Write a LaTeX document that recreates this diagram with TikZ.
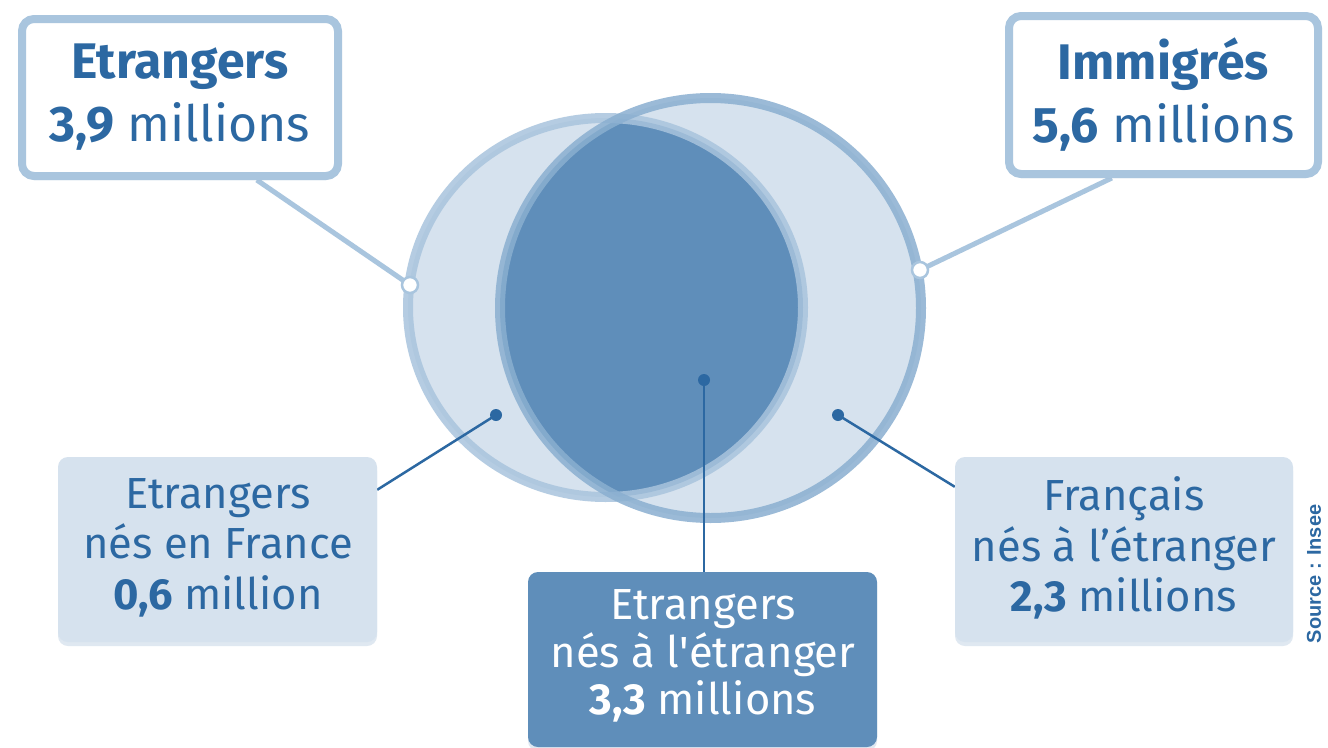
\documentclass[tikz,border=0pt]{standalone}
\usepackage{fontspec}
\setmainfont{Fira Sans}
\newfontfamily\srcfont{Liberation Sans}
\usetikzlibrary{shadows,calc}
\definecolor{txtblue}{HTML}{2C68A2}
\definecolor{lightfill}{HTML}{D6E2EE}
\definecolor{darkfill}{HTML}{5F8EBA}
\definecolor{ringA}{HTML}{A9C4DD}
\definecolor{ringB}{HTML}{8AAFD0}
\definecolor{boxline}{HTML}{A9C5DE}
\pgfdeclarelayer{bg}
\pgfdeclarelayer{mid}
\pgfsetlayers{bg,mid,main}
\begin{document}
\begin{tikzpicture}[x=1pt,y=-1pt,
  topbox/.style={draw=boxline, line width=8pt, fill=white, rounded corners=12pt,
    inner sep=0pt, align=center, text=txtblue,
    font=\fontsize{50}{63}\selectfont,
    drop shadow={shadow xshift=0pt, shadow yshift=-4pt, fill=txtblue, opacity=0.18}},
  lowbox/.style={fill=lightfill, rounded corners=10pt, inner sep=0pt, align=center,
    text=txtblue, font=\fontsize{43.5}{50.5}\selectfont,
    drop shadow={shadow xshift=0pt, shadow yshift=-4pt, fill=txtblue, opacity=0.15}},
  midbox/.style={fill=darkfill, rounded corners=10pt, inner sep=0pt, align=center,
    text=white, font=\fontsize{43.5}{47.5}\selectfont,
    drop shadow={shadow xshift=0pt, shadow yshift=-4pt, fill=txtblue, opacity=0.15}},
  whitedot/.style={circle, fill=white, draw=boxline, line width=2.5pt, minimum size=16pt, inner sep=0pt},
  darkdot/.style={circle, fill=txtblue, minimum size=12pt, inner sep=0pt},
  lightlink/.style={draw=boxline, line width=5pt},
  darklink/.style={draw=txtblue, line width=2.5pt}
]
\useasboundingbox (0,0) rectangle (1328,747);

\begin{pgfonlayer}{bg}
  \fill[white] (0,0) rectangle (1328,747);
  \fill[lightfill] (605.5,307.5) ellipse [x radius=197.5pt, y radius=189.5pt];
  \fill[lightfill] (710.5,308) ellipse [x radius=210.5pt, y radius=210pt];
  \begin{scope}
    \clip (605.5,307.5) ellipse [x radius=197.5pt, y radius=189.5pt];
    \fill[darkfill] (710.5,308) ellipse [x radius=210.5pt, y radius=210pt];
  \end{scope}
  \draw[ringA, line width=10pt, opacity=0.85] (605.5,307.5) ellipse [x radius=197.5pt, y radius=189.5pt];
  \draw[ringB, line width=10pt, opacity=0.85] (710.5,308) ellipse [x radius=210.5pt, y radius=210pt];
\end{pgfonlayer}

% boxes
\node[topbox, minimum width=316pt, minimum height=157pt] (tl) at (180,97.5)
  {\textbf{Etrangers}\\\textbf{3,9} millions};
\node[topbox, minimum width=309pt, minimum height=158pt] (tr) at (1163.5,95)
  {\textbf{Immigrés}\\\textbf{5,6} millions};
\node[lowbox, minimum width=319pt, minimum height=185pt] (bl) at (217.5,549.5) {};
\node[text=txtblue, align=center, font=\fontsize{43.5}{50.5}\selectfont] (blt) at (218,547.5)
  {Etrangers\\nés en France\\\textbf{0,6} million};
\node[lowbox, minimum width=338pt, minimum height=185pt] (br) at (1124,549.5) {};
\node[text=txtblue, align=center, font=\fontsize{43.5}{50.5}\selectfont] (brt) at (1124,548)
  {Français\\nés à l’étranger\\\textbf{2,3} millions};
\node[midbox, minimum width=349pt, minimum height=175pt] (cb) at (702.5,659.5) {};
\node[text=white, align=center, font=\fontsize{43.5}{47.5}\selectfont] (cbt) at (703,656)
  {Etrangers\\nés à l\textquotesingle étranger\\\textbf{3,3} millions};

% dots
\node[whitedot] (wl) at (410,285) {};
\node[whitedot] (wr) at (920,270) {};
\node[darkdot] (dl) at (496,415) {};
\node[darkdot] (dc) at (704,380) {};
\node[darkdot] (dr) at (838,415) {};

% source
\node[rotate=90, text=txtblue, font=\srcfont\bfseries\fontsize{20}{22}\selectfont] (src) at (1314,574) {Source : Insee};

% connectors
\begin{pgfonlayer}{mid}
  \draw[lightlink] ($(tl.south west)!0.737!(tl.south east)$) -- (wl.center);
  \draw[lightlink] ($(tr.south west)!0.337!(tr.south east)$) -- (wr.center);
  \draw[darklink] (dl.center) -- ($(bl.north east)+(0,33)$);
  \draw[darklink] (dr.center) -- ($(br.north west)+(0,30)$);
  \draw[darklink] (dc.center) -- (dc |- cb.north);
\end{pgfonlayer}
\end{tikzpicture}
\end{document}
